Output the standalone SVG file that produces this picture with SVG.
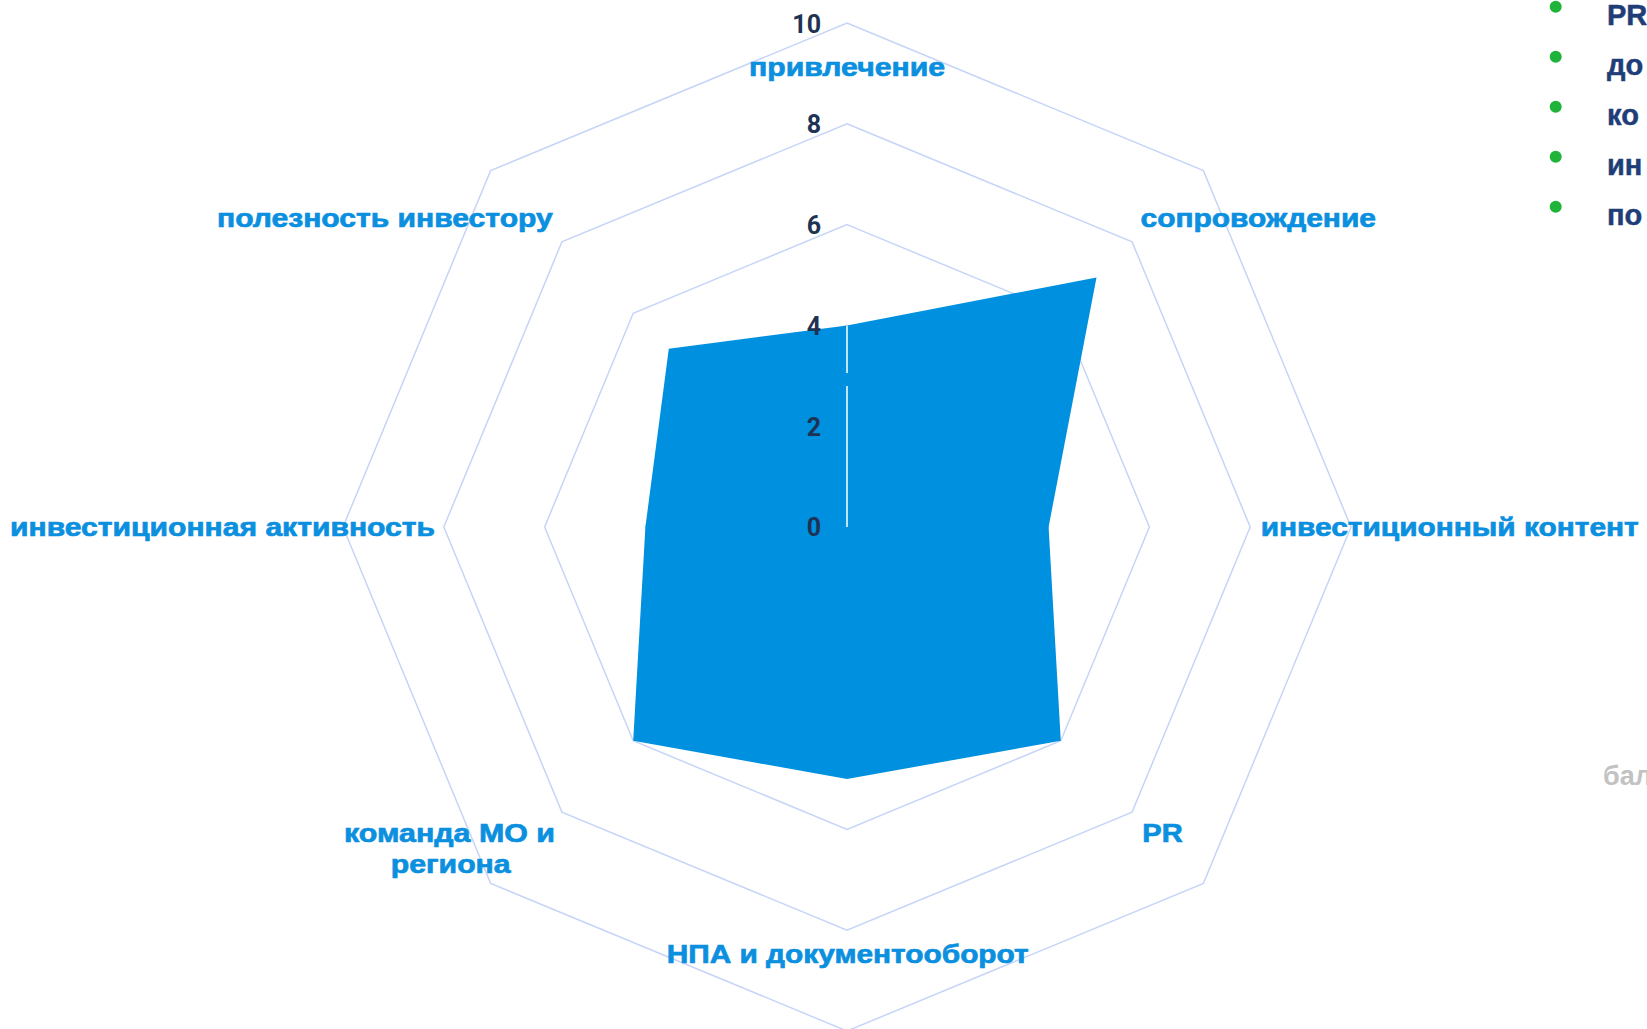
<svg xmlns="http://www.w3.org/2000/svg" width="1647" height="1029" viewBox="0 0 1647 1029">
  <style>
    .grid { fill: none; stroke: #c6d5f7; stroke-width: 1.5; }
    .cat { font-family: "Liberation Sans", Arial, sans-serif; font-weight: 700; font-size: 26.5px; fill: #0b8fdf; stroke: #0b8fdf; stroke-width: 0.7; }
    .tick { font-family: Roboto, "DejaVu Sans", sans-serif; font-weight: 700; font-size: 25px; fill: #1e3354; text-anchor: end; }
    .leg { font-family: "Liberation Sans", Arial, sans-serif; font-weight: 700; font-size: 29px; fill: #1f3e78; stroke: #1f3e78; stroke-width: 0.5; }
    .dot { fill: #1fb33a; }
  </style>
  <rect width="1647" height="1029" fill="#ffffff"/>
  <g id="grid">
    <polygon class="grid" points="847,23 1203.4,170.6 1351,527 1203.4,883.4 847,1031 490.6,883.4 343,527 490.6,170.6"/>
    <polygon class="grid" points="847,123.8 1132.1,241.9 1250.2,527 1132.1,812.1 847,930.2 561.9,812.1 443.8,527 561.9,241.9"/>
    <polygon class="grid" points="847,224.6 1060.8,313.2 1149.4,527 1060.8,740.8 847,829.4 633.2,740.8 544.6,527 633.2,313.2"/>
    <polygon class="grid" points="847,325.4 989.6,384.4 1048.6,527 989.6,669.6 847,728.6 704.4,669.6 645.4,527 704.4,384.4"/>
    <polygon class="grid" points="847,426.2 918.3,455.7 947.8,527 918.3,598.3 847,627.8 775.7,598.3 746.2,527 775.7,455.7"/>
  </g>
  <g id="series">
    <polygon points="847,325.4 1096.5,277.5 1048.6,527 1060.8,740.8 847,779 633.2,740.8 645.4,527 668.8,348.8" fill="#0090e0"/>
    <line x1="847" y1="325.4" x2="847" y2="373" stroke="#ffffff" stroke-width="1.5"/>
    <line x1="847" y1="386" x2="847" y2="527" stroke="#ffffff" stroke-width="1.5"/>
  </g>
  <g id="ticks">
    <text class="tick" x="821" y="536">0</text>
    <text class="tick" x="821" y="435.5">2</text>
    <text class="tick" x="821" y="335">4</text>
    <text class="tick" x="821" y="234">6</text>
    <text class="tick" x="821" y="133">8</text>
    <text class="tick" x="821" y="32.5">10</text>
  </g>
  <g id="axis-labels">
    <g id="cat-privlechenie"><text class="cat" x="749" y="76" textLength="196" lengthAdjust="spacingAndGlyphs">привлечение</text></g>
    <g id="cat-soprovozhdenie"><text class="cat" x="1140.5" y="227" textLength="235.5" lengthAdjust="spacingAndGlyphs">сопровождение</text></g>
    <g id="cat-kontent"><text class="cat" x="1260.7" y="536" textLength="378" lengthAdjust="spacingAndGlyphs">инвестиционный контент</text></g>
    <g id="cat-pr"><text class="cat" x="1142.3" y="842" textLength="40.4" lengthAdjust="spacingAndGlyphs">PR</text></g>
    <g id="cat-npa"><text class="cat" x="666.7" y="963" textLength="362" lengthAdjust="spacingAndGlyphs">НПА и документооборот</text></g>
    <g id="cat-komanda">
      <text class="cat" x="344" y="842" textLength="211" lengthAdjust="spacingAndGlyphs">команда МО и</text>
      <text class="cat" x="390.7" y="873" textLength="120" lengthAdjust="spacingAndGlyphs">региона</text>
    </g>
    <g id="cat-aktivnost"><text class="cat" x="10" y="536" textLength="425" lengthAdjust="spacingAndGlyphs">инвестиционная активность</text></g>
    <g id="cat-poleznost"><text class="cat" x="217" y="227" textLength="335.7" lengthAdjust="spacingAndGlyphs">полезность инвестору</text></g>
  </g>
  <g id="legend">
    <circle class="dot" cx="1555.7" cy="6.7" r="6"/>
    <circle class="dot" cx="1555.7" cy="56.7" r="6"/>
    <circle class="dot" cx="1555.7" cy="106.7" r="6"/>
    <circle class="dot" cx="1555.7" cy="156.7" r="6"/>
    <circle class="dot" cx="1555.7" cy="206.7" r="6"/>
    <text class="leg" x="1607" y="25">PR</text>
    <text class="leg" x="1607" y="75">до</text>
    <text class="leg" x="1607" y="125">ко</text>
    <text class="leg" x="1607" y="175">ин</text>
    <text class="leg" x="1607" y="225">по</text>
  </g>
  <text x="1603" y="785" font-family="'Liberation Sans', Arial, sans-serif" font-weight="700" font-size="27" fill="#c2c2c2">бал</text>
</svg>
